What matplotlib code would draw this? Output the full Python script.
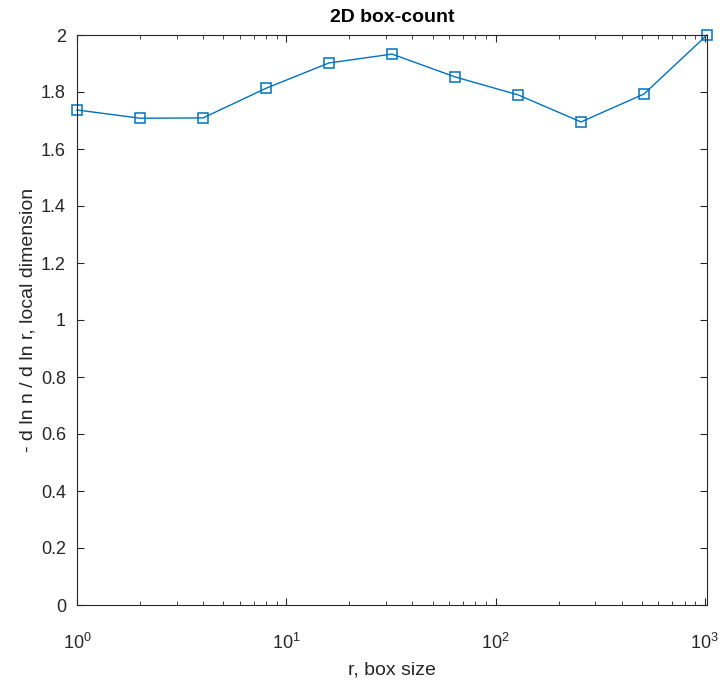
import matplotlib.pyplot as plt
from matplotlib.ticker import LogLocator, FixedLocator

plt.rcParams['font.family'] = ['Liberation Sans', 'DejaVu Sans']

# box sizes and local dimension
r = [1, 2, 4, 8, 16, 32, 64, 128, 256, 512, 1024]
local_dim = [1.737, 1.708, 1.709, 1.813, 1.902, 1.933, 1.853, 1.790, 1.695, 1.793, 2.0]

yticks = [0, 0.2, 0.4, 0.6, 0.8, 1, 1.2, 1.4, 1.6, 1.8, 2]
ytick_labels = ['0', '0.2', '0.4', '0.6', '0.8', '1', '1.2', '1.4', '1.6', '1.8', '2']

fig = plt.figure(figsize=(7.21, 6.83), dpi=100)
ax = fig.add_axes([77 / 721, 78 / 683, 630 / 721, 570 / 683])

ax.plot(r, local_dim, color='#0072BD', marker='s', markersize=7,
        markerfacecolor='none', markeredgewidth=1.1, linewidth=1.0, clip_on=False)

ax.set_xscale('log')
ax.set_xlim(1, 1024)
ax.set_ylim(0, 2)
ax.xaxis.set_major_locator(FixedLocator([1, 10, 100, 1000]))
ax.xaxis.set_minor_locator(LogLocator(base=10, subs=range(2, 10)))
ax.set_yticks(yticks)
ax.set_yticklabels(ytick_labels)

ax.tick_params(which='both', direction='in', top=True, right=True,
               colors='#262626', labelsize=13)
ax.tick_params(which='major', length=5, width=0.8)
ax.tick_params(which='minor', length=3, width=0.6)
ax.tick_params(axis='x', pad=20)
ax.tick_params(axis='y', pad=8)
for s in ax.spines.values():
    s.set_color('#262626')
    s.set_linewidth(0.8)

ax.set_title('2D box-count', fontsize=14, fontweight='bold', pad=9)
ax.set_xlabel('r, box size', fontsize=14, color='#262626', labelpad=6)
ax.set_ylabel('- d ln n / d ln r, local dimension', fontsize=14, color='#262626', labelpad=3)

fig.savefig('out.png', dpi=100)
